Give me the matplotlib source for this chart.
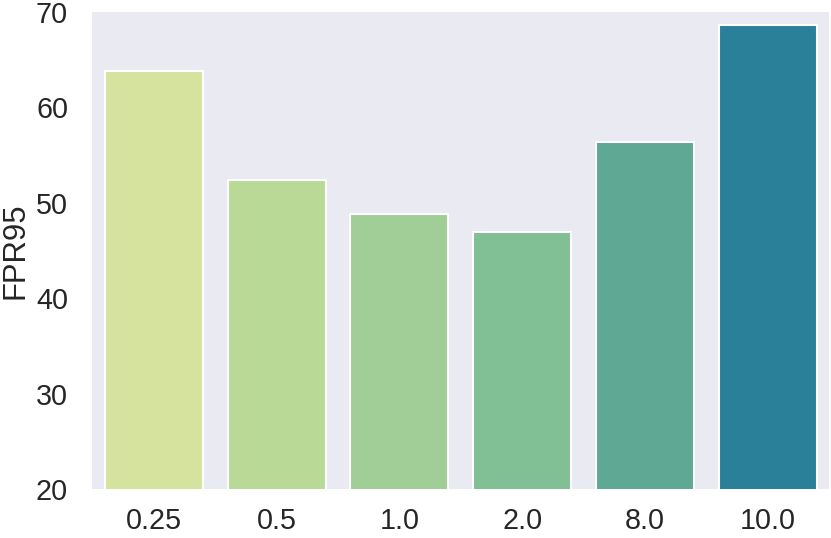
import matplotlib
matplotlib.use("Agg")
import matplotlib.pyplot as plt
import seaborn as sns

temps = ["0.25", "0.5", "1.0", "2.0", "8.0", "10.0"]
fpr95 = [63.8, 52.4, 48.8, 46.9, 56.4, 68.6]
colors = ["#d5e39e", "#b8da96", "#a1ce96", "#81bf95", "#5fa994", "#2a7f99"]

sns.set_style("dark")
plt.rcParams["font.family"] = ["Liberation Sans", "DejaVu Sans"]

fig, ax = plt.subplots(figsize=(8.31, 5.38), dpi=100)
ax.bar(range(len(temps)), fpr95, width=0.8, color=colors,
       edgecolor="white", linewidth=1.5)
ax.set_xticks(range(len(temps)))
ax.set_xticklabels(temps)
ax.set_xlim(-0.5, len(temps) - 0.5)
ax.set_ylim(20, 70)
ax.set_ylabel("FPR95", fontsize=22.4, labelpad=4)
ax.tick_params(axis="both", labelsize=20.7, colors="#262626", length=0)
ax.tick_params(axis="x", pad=12.7)
ax.tick_params(axis="y", pad=17.6)
for s in ax.spines.values():
    s.set_visible(False)

fig.subplots_adjust(left=0.1113, right=0.9976, top=0.9777, bottom=0.0911)
fig.savefig("out.png", dpi=100)
